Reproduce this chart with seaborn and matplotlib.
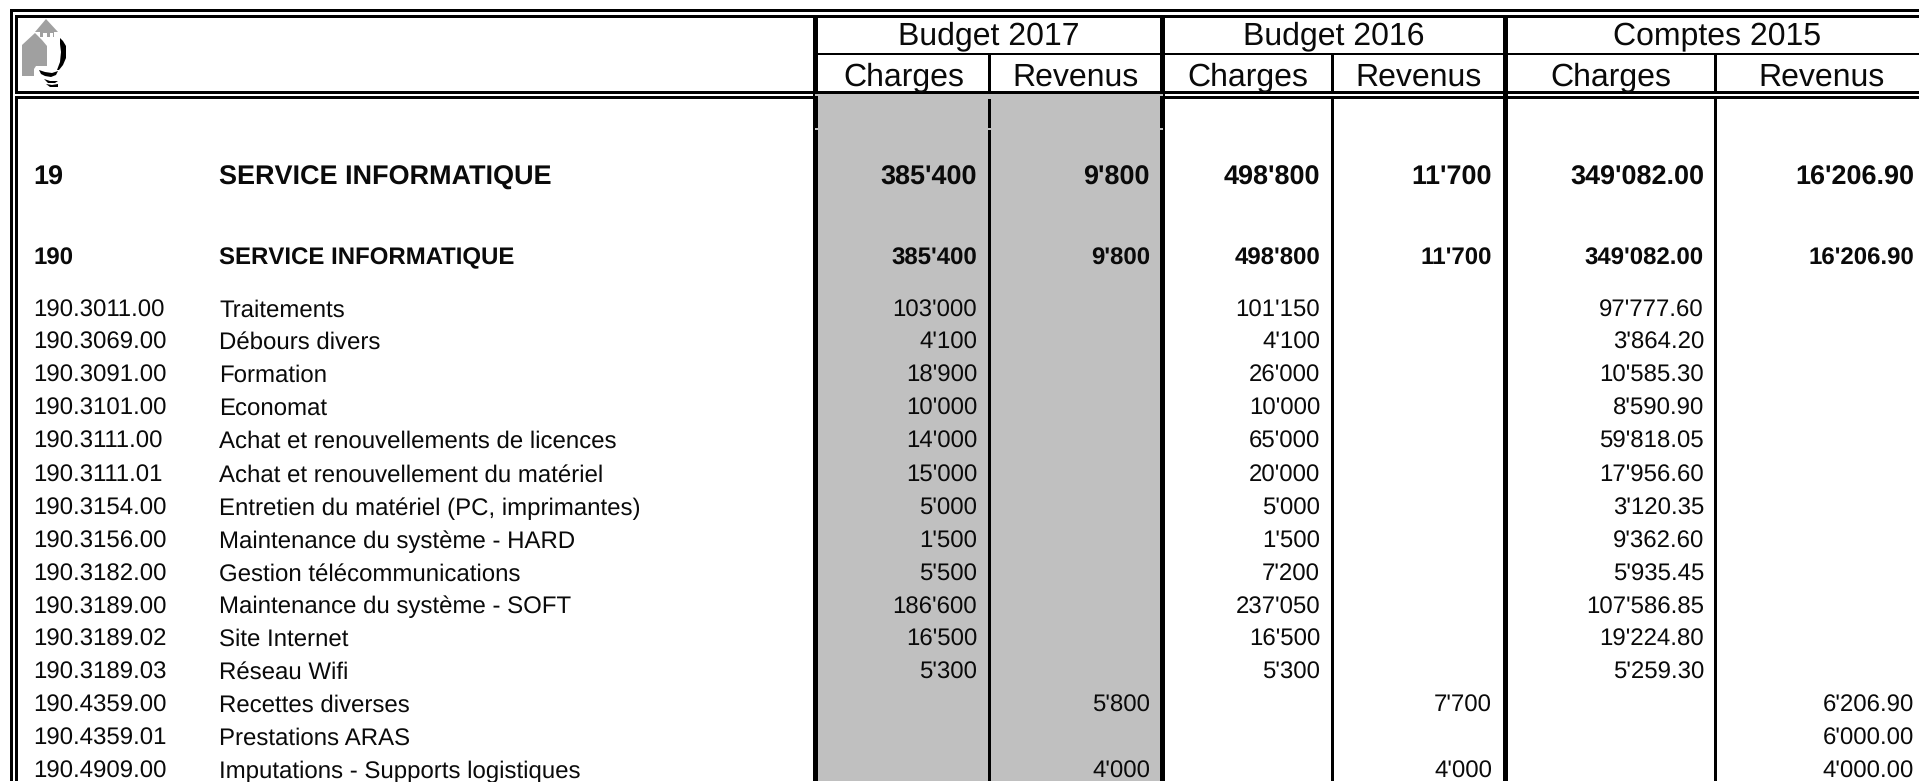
import matplotlib
matplotlib.use("Agg")
import matplotlib.pyplot as plt
from matplotlib.patches import Polygon, Rectangle
import seaborn as sns

sns.set_theme(style="white", rc={"axes.facecolor": "white"})
plt.rcParams["font.family"] = ["Liberation Sans", "DejaVu Sans"]
plt.rcParams["text.hinting"] = "no_hinting"
plt.rcParams["text.hinting_factor"] = 1

codes = ["190.3011.00", "190.3069.00", "190.3091.00", "190.3101.00", "190.3111.00",
         "190.3111.01", "190.3154.00", "190.3156.00", "190.3182.00", "190.3189.00",
         "190.3189.02", "190.3189.03", "190.4359.00", "190.4359.01", "190.4909.00"]
labels = ["Traitements", "Débours divers", "Formation", "Economat",
          "Achat et renouvellements de licences", "Achat et renouvellement du matériel",
          "Entretien du matériel (PC, imprimantes)", "Maintenance du système - HARD",
          "Gestion télécommunications", "Maintenance du système - SOFT", "Site Internet",
          "Réseau Wifi", "Recettes diverses", "Prestations ARAS",
          "Imputations - Supports logistiques"]
b17_charges = ["103'000", "4'100", "18'900", "10'000", "14'000", "15'000", "5'000", "1'500",
               "5'500", "186'600", "16'500", "5'300", "", "", ""]
b17_revenus = [""] * 12 + ["5'800", "", "4'000"]
b16_charges = ["101'150", "4'100", "26'000", "10'000", "65'000", "20'000", "5'000", "1'500",
               "7'200", "237'050", "16'500", "5'300", "", "", ""]
b16_revenus = [""] * 12 + ["7'700", "", "4'000"]
c15_charges = ["97'777.60", "3'864.20", "10'585.30", "8'590.90", "59'818.05", "17'956.60",
               "3'120.35", "9'362.60", "5'935.45", "107'586.85", "19'224.80", "5'259.30",
               "", "", ""]
c15_revenus = [""] * 12 + ["6'206.90", "6'000.00", "4'000.00"]
totals = ["385'400", "9'800", "498'800", "11'700", "349'082.00", "16'206.90"]
section_codes = ["19", "190"]
section_name = "SERVICE INFORMATIQUE"
groups = ["Budget 2017", "Budget 2016", "Comptes 2015"]
subheads = ["Charges", "Revenus"]

W, H = 1919, 782
fig = plt.figure(figsize=(W / 100, H / 100), dpi=100, facecolor="white")
ax = fig.add_axes([0, 0, 1, 1])
ax.set_xlim(0, W)
ax.set_ylim(H, 0)
ax.axis("off")
sns.despine(ax=ax, left=True, bottom=True)


def rect(x0, y0, x1, y1, c="black", z=2):
    ax.add_patch(Rectangle((x0, y0), x1 - x0, y1 - y0, fc=c, ec="none", lw=0, zorder=z))


GRAY = "#C0C0C0"
INK = "#0A0A0A"
BOTTOM = 781
# horizontal rules
rect(10, 9, W, 12)
rect(15, 15, W, 18)
rect(15, 91, W, 94)
rect(15, 96, W, 99)
rect(813, 53, W, 55)
# frame
rect(10, 9, 13, BOTTOM)
rect(15, 15, 18, 94)
rect(15, 96, 18, BOTTOM)
# column separators
thick = [(813, 818), (1160, 1165), (1503, 1508)]
thin = [(988, 991), (1331, 1334), (1714, 1717)]
for x0, x1 in thick:
    rect(x0, 18, x1, 91)
    rect(x0, 94, x1, BOTTOM)
for x0, x1 in thin:
    rect(x0, 55, x1, 91)
    rect(x0, 99, x1, BOTTOM)
# shaded Budget 2017 block, over the double rule
rect(818, 96, 988, BOTTOM, GRAY, 3)
rect(991, 96, 1160, BOTTOM, GRAY, 3)
rect(988, 96, 991, 99, GRAY, 3)
rect(815, 94, 1163, 96, GRAY, 3)
# small nicks in the separators
for x0, x1 in [(815, 818), (988, 991), (1160, 1163)]:
    rect(x0, 128, x1, 130, GRAY, 4)

# logo
G = "#A0A0A0"
ax.add_patch(Polygon([(46, 19), (35, 32), (40, 32), (40, 37), (43, 37), (43, 33), (47, 33), (47, 37),
                      (50, 37), (50, 33), (53, 33), (53, 37), (54, 37), (54, 32), (58, 32)],
                     fc=G, ec="none", zorder=3))
ax.add_patch(Polygon([(22, 45), (35, 33), (42, 40), (47, 46), (47, 66), (36, 66), (34, 69), (34, 76),
                      (22, 76)], fc=G, ec="none", zorder=3))
ax.add_patch(Polygon([(60, 38), (63, 41), (66, 46), (66, 58), (63, 65), (59, 70), (57, 70), (60, 62),
                      (61, 52), (60, 44)], fc="black", ec="none", zorder=3))
ax.add_patch(Polygon([(39, 70), (45, 72), (52, 73), (58, 71), (56, 75), (51, 77), (45, 76), (41, 74)],
                     fc="black", ec="none", zorder=3))
ax.add_patch(Polygon([(44, 79), (50, 81), (58, 81), (55, 83), (48, 83)], fc="black", ec="none", zorder=3))
ax.add_patch(Polygon([(46, 84), (52, 85), (58, 84), (58, 87), (50, 87)], fc="black", ec="none", zorder=3))

# headers
group_x = [989, 1334, 1717]
for g, x in zip(groups, group_x):
    ax.text(x, 44, g, ha="center", va="baseline", fontsize=22.9, color=INK, zorder=5)
sub_x = [904, 1076, 1248, 1419, 1611, 1822]
for i, x in enumerate(sub_x):
    ax.text(x, 85.5, subheads[i % 2], ha="center", va="baseline", fontsize=22.9, color=INK, zorder=5)

# right edges of the value columns
right_x = [977, 1150, 1320, 1492, 1704, 1914]
for baseline, code, size in [(185, section_codes[0], 19.4), (264.5, section_codes[1], 17.2)]:
    ax.text(33, baseline, code, fontsize=size, fontweight="bold", va="baseline", color=INK, zorder=5)
    ax.text(219, baseline, section_name, fontsize=size, fontweight="bold", va="baseline", color=INK, zorder=5)
    for v, x in zip(totals, right_x):
        ax.text(x, baseline, v, fontsize=size, fontweight="bold", ha="right", va="baseline", color=INK, zorder=5)

row_y = [316.5, 348.5, 381.5, 414.5, 448, 481.5, 515, 548, 581, 613.5, 646, 679, 712, 745, 778]
cols = [b17_charges, b17_revenus, b16_charges, b16_revenus, c15_charges, c15_revenus]
for r, y in enumerate(row_y):
    ax.text(33, y, codes[r], fontsize=17.1, va="baseline", color=INK, zorder=5)
    ax.text(219, y, labels[r], fontsize=17.1, va="baseline", color=INK, zorder=5)
    for col, x in zip(cols, right_x):
        if col[r]:
            ax.text(x, y, col[r], fontsize=17.1, ha="right", va="baseline", color=INK, zorder=5)

fig.savefig("out.png", dpi=100, facecolor="white")
